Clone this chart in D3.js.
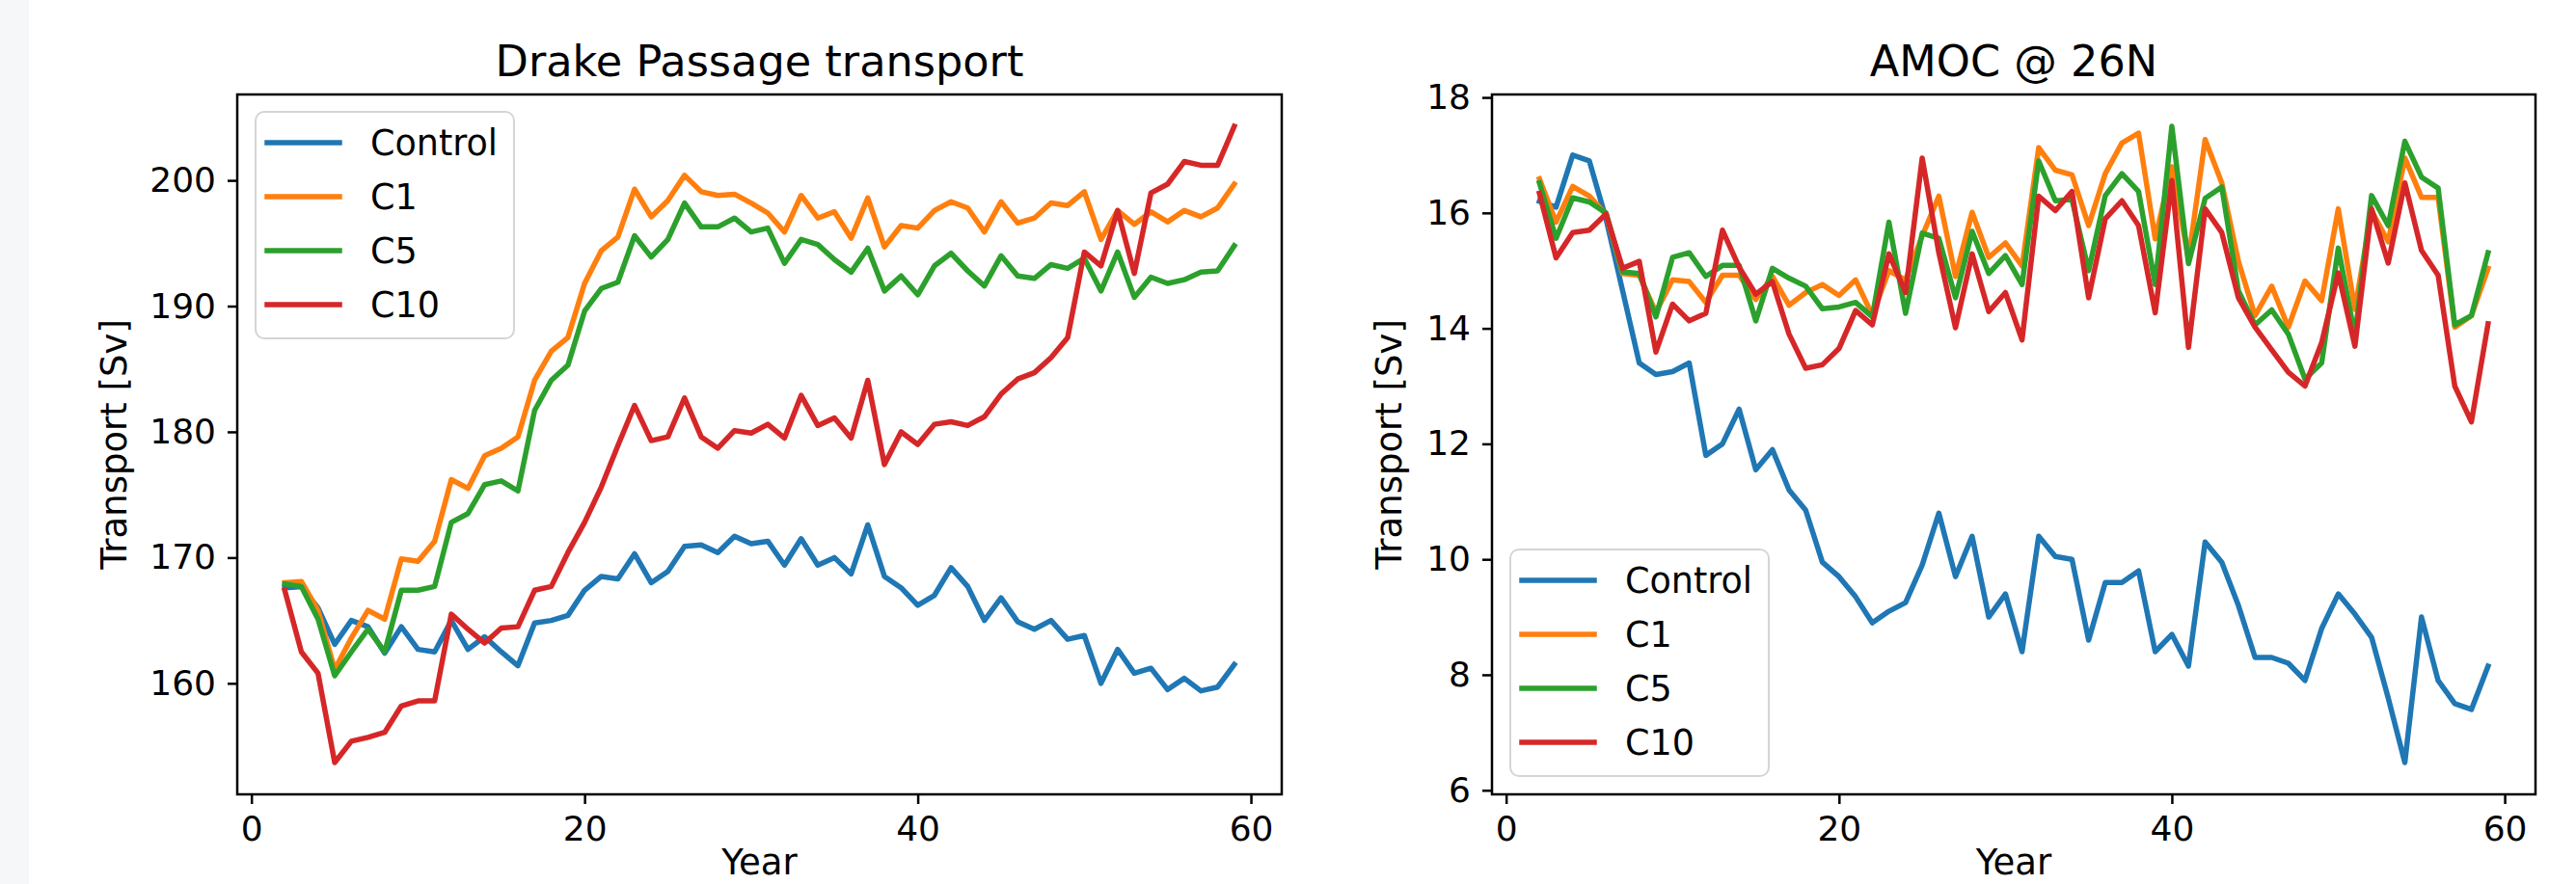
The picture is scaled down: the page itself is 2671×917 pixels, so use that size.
<!DOCTYPE html>
<html>
<head>
<meta charset="utf-8">
<script src="https://cdn.jsdelivr.net/npm/d3@7"></script>
<style>
  html, body { margin: 0; padding: 0; background: #ffffff; }
  svg { display: block; }
  text { font-family: "DejaVu Sans", sans-serif; fill: #000; }
</style>
</head>
<body>
<svg id="chart" width="2671" height="917"></svg>
<script>
// ---------------- data ----------------
const years = [2,3,4,5,6,7,8,9,10,11,12,13,14,15,16,17,18,19,20,21,22,23,24,25,26,27,28,29,30,
               31,32,33,34,35,36,37,38,39,40,41,42,43,44,45,46,47,48,49,50,51,52,53,54,55,56,57,58,59];

const seriesNames = ["Control", "C1", "C5", "C10"];
const seriesColors = ["#1f77b4", "#ff7f0e", "#2ca02c", "#d62728"];

const drakeControl = [167.6,167.7,166.0,163.1,165.0,164.5,162.4,164.5,162.7,162.5,165.0,162.7,163.7,162.5,161.4,164.8,165.0,165.4,167.4,168.5,168.3,170.3,168.0,168.9,170.9,171.0,170.4,171.7,171.1,
                      171.3,169.4,171.5,169.4,170.0,168.7,172.6,168.5,167.6,166.2,167.0,169.2,167.7,165.0,166.8,164.9,164.3,165.0,163.5,163.8,160.0,162.7,160.8,161.2,159.5,160.4,159.4,159.7,161.5];
const drakeC1 = [168.0,168.1,165.8,161.1,163.6,165.8,165.1,169.9,169.7,171.3,176.2,175.5,178.1,178.7,179.6,184.1,186.4,187.5,191.8,194.4,195.5,199.3,197.1,198.4,200.4,199.1,198.8,198.9,198.2,
                 197.4,195.9,198.8,197.0,197.5,195.4,198.6,194.7,196.4,196.2,197.6,198.3,197.8,195.9,198.3,196.6,197.0,198.2,198.0,199.1,195.3,197.6,196.5,197.5,196.7,197.6,197.1,197.8,199.7];
const drakeC5 = [167.9,167.7,165.1,160.6,162.5,164.3,162.5,167.4,167.4,167.7,172.8,173.5,175.8,176.1,175.3,181.7,184.1,185.3,189.6,191.4,191.9,195.6,193.9,195.3,198.2,196.3,196.3,197.0,195.9,
                 196.2,193.4,195.3,194.9,193.7,192.7,194.6,191.2,192.4,190.9,193.2,194.2,192.8,191.6,194.0,192.4,192.2,193.3,193.0,193.8,191.2,194.3,190.7,192.3,191.8,192.1,192.7,192.8,194.8];
const drakeC10 = [167.4,162.5,160.8,153.7,155.4,155.7,156.1,158.2,158.6,158.6,165.5,164.3,163.2,164.4,164.5,167.4,167.7,170.4,172.8,175.6,178.9,182.1,179.3,179.6,182.7,179.6,178.7,180.1,179.9,
                  180.6,179.5,182.9,180.5,181.1,179.5,184.1,177.4,180.0,179.0,180.6,180.8,180.5,181.2,183.0,184.2,184.7,185.9,187.5,194.3,193.2,197.6,192.6,199.0,199.7,201.5,201.2,201.2,204.3];

const amocControl = [16.2,16.1,17.0,16.9,15.9,14.65,13.4,13.2,13.25,13.4,11.8,12.0,12.6,11.55,11.9,11.2,10.85,9.95,9.7,9.35,8.9,9.1,9.25,9.9,10.8,9.7,10.4,9.0,9.4,
                     8.4,10.4,10.05,10.0,8.6,9.6,9.6,9.8,8.4,8.7,8.15,10.3,9.95,9.2,8.3,8.3,8.2,7.9,8.8,9.4,9.05,8.65,7.6,6.48,9.0,7.9,7.5,7.4,8.15];
const amocC1 = [16.59,15.84,16.46,16.29,15.98,14.95,14.92,14.28,14.84,14.81,14.45,14.92,14.92,14.5,14.9,14.4,14.62,14.76,14.57,14.84,14.23,15.0,14.84,15.6,16.29,14.9,16.01,15.23,15.48,
                15.08,17.13,16.74,16.66,15.78,16.68,17.21,17.38,15.55,16.8,15.2,17.27,16.52,15.16,14.22,14.73,14.02,14.82,14.48,16.07,14.33,16.04,15.5,16.95,16.27,16.27,14.02,14.22,15.04];
const amocC5 = [16.52,15.56,16.26,16.19,16.0,14.98,14.95,14.2,15.23,15.31,14.9,15.09,15.09,14.13,15.04,14.87,14.73,14.34,14.37,14.45,14.2,15.84,14.26,15.65,15.56,14.53,15.68,14.95,15.26,
                14.76,16.9,16.21,16.23,15.0,16.3,16.68,16.37,14.76,17.5,15.12,16.25,16.45,14.65,14.06,14.32,13.9,13.12,13.4,15.39,13.87,16.3,15.78,17.24,16.62,16.43,14.06,14.22,15.31];
const amocC10 = [16.34,15.22,15.66,15.7,15.98,15.04,15.16,13.59,14.42,14.13,14.26,15.7,15.06,14.59,14.81,13.9,13.31,13.37,13.65,14.31,14.06,15.29,14.62,16.95,15.31,14.01,15.29,14.29,14.62,
                 13.8,16.29,16.04,16.37,14.53,15.9,16.21,15.78,14.27,16.56,13.67,16.07,15.66,14.53,14.02,13.63,13.24,13.0,13.75,14.96,13.69,16.07,15.13,16.52,15.35,14.92,13.0,12.38,14.08];

const xTickValues = [0, 20, 40, 60];
const drakeYTicks = [160, 170, 180, 190, 200];
const amocYTicks = [6, 8, 10, 12, 14, 16, 18];

const titles = ["Drake Passage transport", "AMOC @ 26N"];
const xLabel = "Year";
const yLabel = "Transport [Sv]";

// ---------------- layout ----------------
const svg = d3.select("#chart");
svg.append("rect").attr("x", 0).attr("y", 0).attr("width", 2671).attr("height", 917).attr("fill", "#ffffff");
svg.append("rect").attr("x", 0).attr("y", 0).attr("width", 30).attr("height", 917).attr("fill", "#f6f7f9");

const TOP = 98, BOTTOM = 824;
const panels = [
  { x0: 246, x1: 1329, title: titles[0], series: [drakeControl, drakeC1, drakeC5, drakeC10],
    yTicks: drakeYTicks, legend: { corner: "top" }, yLabelX: 131 },
  { x0: 1547, x1: 2629, title: titles[1], series: [amocControl, amocC1, amocC5, amocC10],
    yTicks: amocYTicks, legend: { corner: "bottom" }, yLabelX: 1453 }
];

function padded(ext) {
  const m = (ext[1] - ext[0]) * 0.05;
  return [ext[0] - m, ext[1] + m];
}

panels.forEach(p => {
  const g = svg.append("g");
  const x = d3.scaleLinear().domain(padded(d3.extent(years))).range([p.x0, p.x1]);
  const allVals = [].concat(...p.series);
  const y = d3.scaleLinear().domain(padded(d3.extent(allVals))).range([BOTTOM, TOP]);

  const clipId = "clip" + p.x0;
  svg.append("clipPath").attr("id", clipId)
    .append("rect").attr("x", p.x0).attr("y", TOP).attr("width", p.x1 - p.x0).attr("height", BOTTOM - TOP);

  const line = d3.line().x((d, i) => x(years[i])).y(d => y(d));
  p.series.forEach((s, k) => {
    g.append("path")
      .datum(s)
      .attr("d", line)
      .attr("fill", "none")
      .attr("stroke", seriesColors[k])
      .attr("stroke-width", 5.5)
      .attr("stroke-linejoin", "round")
      .attr("stroke-linecap", "square")
      .attr("clip-path", `url(#${clipId})`);
  });

  const xAxis = d3.axisBottom(x).tickValues(xTickValues).tickSize(10).tickPadding(12).tickFormat(d3.format("d"));
  const gx = g.append("g").attr("transform", `translate(0,${BOTTOM})`).call(xAxis);
  const yAxis = d3.axisLeft(y).tickValues(p.yTicks).tickSize(10).tickPadding(12).tickFormat(d3.format("d"));
  const gy = g.append("g").attr("transform", `translate(${p.x0},0)`).call(yAxis);
  [gx, gy].forEach(a => {
    a.select(".domain").remove();
    a.selectAll(".tick line").attr("stroke", "#000").attr("stroke-width", 2.5);
    a.selectAll(".tick text").attr("font-family", "DejaVu Sans").attr("font-size", 36).attr("fill", "#000");
  });

  g.append("rect")
    .attr("x", p.x0).attr("y", TOP)
    .attr("width", p.x1 - p.x0).attr("height", BOTTOM - TOP)
    .attr("fill", "none").attr("stroke", "#000").attr("stroke-width", 2.5);

  g.append("text")
    .attr("x", (p.x0 + p.x1) / 2).attr("y", 79)
    .attr("text-anchor", "middle")
    .attr("font-size", 44.6)
    .text(p.title);

  g.append("text")
    .attr("x", (p.x0 + p.x1) / 2).attr("y", 907)
    .attr("text-anchor", "middle")
    .attr("font-size", 37)
    .text(xLabel);

  g.append("text")
    .attr("transform", `translate(${p.yLabelX},${(TOP + BOTTOM) / 2}) rotate(-90)`)
    .attr("text-anchor", "middle")
    .attr("font-size", 37)
    .text(yLabel);

  const bw = 268, bh = 235;
  const bx = p.x0 + 19;
  const by = p.legend.corner === "top" ? TOP + 18 : BOTTOM - 19 - bh;
  const lg = g.append("g").attr("transform", `translate(${bx},${by})`);
  lg.append("rect")
    .attr("x", 0).attr("y", 0).attr("width", bw).attr("height", bh)
    .attr("rx", 9).attr("ry", 9)
    .attr("fill", "#ffffff").attr("fill-opacity", 0.8)
    .attr("stroke", "#d5d5d5").attr("stroke-width", 2);
  seriesNames.forEach((name, k) => {
    const cy = 32 + k * 56;
    lg.append("line")
      .attr("x1", 12).attr("x2", 87).attr("y1", cy).attr("y2", cy)
      .attr("stroke", seriesColors[k]).attr("stroke-width", 5.5).attr("stroke-linecap", "square");
    lg.append("text")
      .attr("x", 119).attr("y", cy).attr("dy", "0.36em")
      .attr("font-size", 36.5)
      .text(name);
  });
});
</script>
</body>
</html>
